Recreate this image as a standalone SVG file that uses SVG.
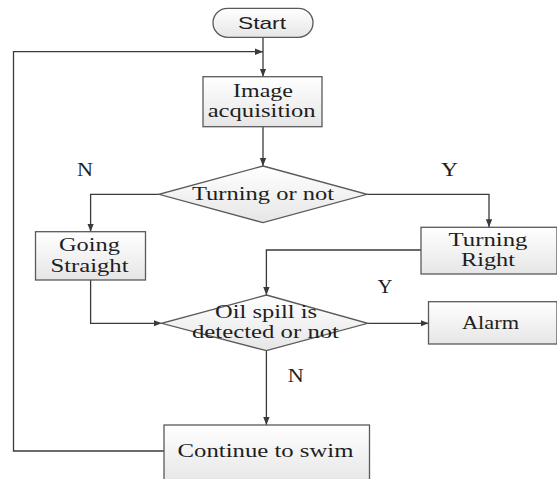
<svg xmlns="http://www.w3.org/2000/svg" width="557" height="479" viewBox="0 0 557 479">
<defs>
<linearGradient id="g" x1="0" y1="0" x2="0" y2="1">
<stop offset="0" stop-color="#ffffff"/>
<stop offset="1" stop-color="#e6e6e6"/>
</linearGradient>
<marker id="a" markerUnits="userSpaceOnUse" markerWidth="9" markerHeight="8" refX="8" refY="4" orient="auto">
<path d="M0,0.8 L8,4 L0,7.2 Z" fill="#3a3a3a"/>
</marker>
<style>
.s{fill:url(#g);stroke:#5a5a5a;stroke-width:1.3}
.t{font-family:"Liberation Serif","Times New Roman",serif;font-size:19.5px;fill:#1e1e1e;text-anchor:middle}
.c{fill:none;stroke:#3a3a3a;stroke-width:1.3;marker-end:url(#a)}
</style>
</defs>
<rect width="557" height="479" fill="#ffffff"/>
<g id="connectors">
<path class="c" d="M263,37.3 V76.7"/>
<path class="c" d="M164,451 H13.5 V51.7 H263"/>
<path class="c" d="M263,126.7 V166"/>
<path class="c" d="M159,194.3 H90.6 V231.7"/>
<path class="c" d="M367,194.3 H489 V227.3"/>
<path class="c" d="M421,250 H266.4 V295"/>
<path class="c" d="M90.6,280 V323.3 H161.6"/>
<path class="c" d="M367.7,323.3 H428.5"/>
<path class="c" d="M266.4,350.7 V425"/>
</g>
<g id="start">
<rect class="s" x="213" y="8.3" width="100" height="29" rx="14.5"/>
<text x="262" y="28.5" style="font-family:'Liberation Sans',Arial,sans-serif;font-size:17px;fill:#1e1e1e;text-anchor:middle" textLength="48" lengthAdjust="spacingAndGlyphs">Start</text>
</g>
<g id="image-acquisition">
<rect class="s" x="203" y="76.7" width="119" height="50"/>
<text class="t" x="263" y="97.3" textLength="60" lengthAdjust="spacingAndGlyphs">Image</text>
<text class="t" x="261.7" y="117" textLength="108" lengthAdjust="spacingAndGlyphs">acquisition</text>
</g>
<g id="turning-or-not">
<polygon class="s" points="263,166 367,194.3 263,222.7 159,194.3"/>
<text class="t" x="263" y="200" textLength="142" lengthAdjust="spacingAndGlyphs">Turning or not</text>
</g>
<g id="going-straight">
<rect class="s" x="35.5" y="231.7" width="110" height="48.3"/>
<text class="t" x="89.5" y="251.3" textLength="61" lengthAdjust="spacingAndGlyphs">Going</text>
<text class="t" x="89.5" y="272.3" textLength="78" lengthAdjust="spacingAndGlyphs">Straight</text>
</g>
<g id="turning-right">
<rect class="s" x="421" y="227.3" width="136" height="46.7"/>
<text class="t" x="488" y="246.3" textLength="79" lengthAdjust="spacingAndGlyphs">Turning</text>
<text class="t" x="488" y="266" textLength="54" lengthAdjust="spacingAndGlyphs">Right</text>
</g>
<g id="oil-spill">
<polygon class="s" points="266.4,295 367.7,323.3 266.4,350.7 161.6,323.3"/>
<text class="t" x="266" y="318.3" textLength="102" lengthAdjust="spacingAndGlyphs">Oil spill is</text>
<text class="t" x="265.5" y="338.3" textLength="147" lengthAdjust="spacingAndGlyphs">detected or not</text>
</g>
<g id="alarm">
<rect class="s" x="428.5" y="301.7" width="128.5" height="42.3"/>
<text class="t" x="490.5" y="328.5" textLength="57" lengthAdjust="spacingAndGlyphs">Alarm</text>
</g>
<g id="continue-to-swim">
<rect class="s" x="164" y="425" width="205.5" height="58"/>
<text class="t" x="265.5" y="457.3" textLength="176" lengthAdjust="spacingAndGlyphs">Continue to swim</text>
</g>
<g id="labels">
<text class="t" x="85" y="176" textLength="16" lengthAdjust="spacingAndGlyphs">N</text>
<text class="t" x="449.5" y="176" textLength="17" lengthAdjust="spacingAndGlyphs">Y</text>
<text class="t" x="385" y="293.3" textLength="15" lengthAdjust="spacingAndGlyphs">Y</text>
<text class="t" x="295.7" y="381.7" textLength="16" lengthAdjust="spacingAndGlyphs">N</text>
</g>
</svg>
